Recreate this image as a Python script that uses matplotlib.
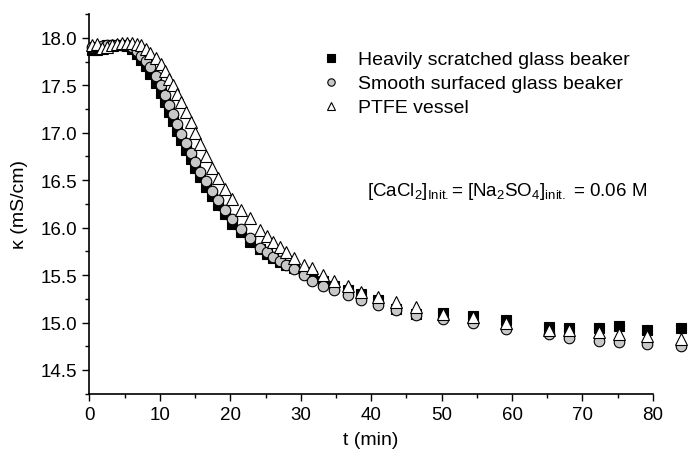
import matplotlib
matplotlib.use("Agg")
import matplotlib.pyplot as plt
from matplotlib.ticker import MultipleLocator

plt.rcParams["font.family"] = ["Liberation Sans", "DejaVu Sans"]
plt.rcParams["mathtext.fontset"] = "custom"
plt.rcParams["mathtext.rm"] = "Liberation Sans"
plt.rcParams["mathtext.it"] = "Liberation Sans:italic"

# sampling times (min), shared by the three vessels
t_min = [0.4, 1.1, 1.8, 2.5, 3.2, 3.9, 4.6, 5.3, 6.0, 6.7, 7.35,
         8.0, 8.66, 9.43, 10.11, 10.75, 11.34, 11.93, 12.48, 13.07, 13.7,
         14.35, 15.0, 15.76, 16.5, 17.38, 18.3, 19.25, 20.3, 21.5, 22.8,
         24.2, 25.15, 26.05, 27.0, 27.95, 29.1, 30.4, 31.6,
         33.2, 34.7, 36.7, 38.5, 40.9, 43.5, 46.3, 50.2, 54.5, 59.1,
         65.2, 68.1, 72.4, 75.2, 79.1, 84.0]

# conductivity (mS/cm)
kappa_scratched = [17.87, 17.87, 17.90, 17.92, 17.93, 17.93, 17.93, 17.91, 17.88, 17.83, 17.77,
                   17.70, 17.62, 17.52, 17.42, 17.32, 17.22, 17.12, 17.02, 16.92, 16.82,
                   16.72, 16.63, 16.53, 16.43, 16.33, 16.24, 16.14, 16.04, 15.95, 15.85,
                   15.77, 15.72, 15.68, 15.64, 15.61, 15.57, 15.53, 15.49,
                   15.44, 15.38, 15.34, 15.30, 15.24, 15.14, 15.09, 15.10, 15.07, 15.03,
                   14.95, 14.94, 14.94, 14.96, 14.92, 14.94]
kappa_smooth = [17.90, 17.90, 17.91, 17.92, 17.93, 17.93, 17.93, 17.92, 17.90, 17.86, 17.81,
                17.76, 17.69, 17.60, 17.50, 17.40, 17.29, 17.20, 17.09, 16.99, 16.89,
                16.79, 16.69, 16.59, 16.49, 16.39, 16.29, 16.19, 16.09, 15.99, 15.89,
                15.79, 15.74, 15.69, 15.65, 15.61, 15.56, 15.50, 15.44,
                15.39, 15.34, 15.29, 15.24, 15.18, 15.13, 15.08, 15.04, 14.99, 14.93,
                14.88, 14.84, 14.80, 14.79, 14.77, 14.75]
kappa_ptfe = [17.93, 17.94, 17.89, 17.90, 17.92, 17.94, 17.95, 17.95, 17.95, 17.94, 17.92,
              17.88, 17.84, 17.79, 17.72, 17.65, 17.57, 17.50, 17.41, 17.32, 17.22,
              17.11, 17.00, 16.88, 16.76, 16.63, 16.52, 16.41, 16.30, 16.19, 16.10,
              15.97, 15.91, 15.85, 15.80, 15.74, 15.68, 15.61, 15.57,
              15.50, 15.44, 15.39, 15.32, 15.27, 15.22, 15.16, 15.09, 15.06, 14.99,
              14.92, 14.92, 14.90, 14.88, 14.86, 14.83]

labels = ["Heavily scratched glass beaker", "Smooth surfaced glass beaker", "PTFE vessel"]

fig = plt.figure(figsize=(6.88, 4.6), dpi=100)
ax = fig.add_axes([0.130, 0.142, 0.819, 0.825])

ax.plot(t_min, kappa_scratched, ls="none", marker="s", ms=7.8, mfc="black",
        mec="black", mew=0.8, clip_on=False, zorder=3, label=labels[0])
ax.plot(t_min, kappa_smooth, ls="none", marker="o", ms=7.6, mfc="#c8c8c8",
        mec="black", mew=0.8, clip_on=False, zorder=4, label=labels[1])
ax.plot(t_min, kappa_ptfe, ls="none", marker="^", ms=8.4, mfc="white",
        mec="black", mew=0.8, clip_on=False, zorder=5, label=labels[2])

ax.set_xlim(0, 80)
ax.set_ylim(14.25, 18.25)
ax.xaxis.set_major_locator(MultipleLocator(10))
ax.xaxis.set_minor_locator(MultipleLocator(5))
ax.yaxis.set_major_locator(MultipleLocator(0.5))
ax.yaxis.set_minor_locator(MultipleLocator(0.25))
ax.yaxis.set_major_formatter(plt.FormatStrFormatter("%.1f"))

for side in ["top", "right"]:
    ax.spines[side].set_visible(False)
for side in ["left", "bottom"]:
    ax.spines[side].set_linewidth(1.2)
ax.tick_params(which="major", direction="out", length=5.3, width=1.0,
               labelsize=13.5, pad=3.5)
ax.tick_params(which="minor", direction="out", length=3.0, width=1.0)

ax.set_xlabel("t (min)", fontsize=14, labelpad=6)
ax.set_ylabel("κ (mS/cm)", fontsize=14, labelpad=9)

ax.legend(loc="upper left", bbox_to_anchor=(0.398, 0.924), frameon=False,
          fontsize=14, markerscale=0.7, handlelength=1.0, handletextpad=0.9,
          labelspacing=0.33, borderaxespad=0)

ax.text(0.533, 0.575, r"[CaCl$_2$]$_{\rm Init.}$= [Na$_2$SO$_4$]$_{\rm init.}$ = 0.06 M",
        transform=fig.transFigure, fontsize=13.5, ha="left", va="baseline")

fig.savefig("out.png", dpi=100)
